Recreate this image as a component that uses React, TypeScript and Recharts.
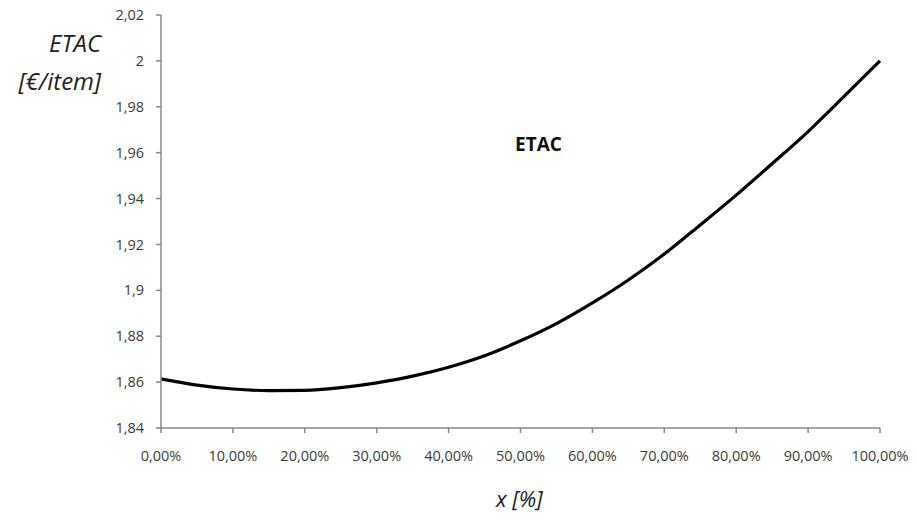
import React from "react";
import { LineChart, Line, XAxis, YAxis } from "recharts";

const xPercent = [0, 5, 10, 15, 20, 25, 30, 35, 40, 45, 50, 55, 60, 65, 70, 75, 80, 85, 90, 95, 100];
const etacValues = [1.8614, 1.8587, 1.857, 1.8563, 1.8564, 1.8576, 1.8597, 1.8626, 1.8665, 1.8715, 1.878, 1.8855, 1.8945, 1.9045, 1.9158, 1.9285, 1.9415, 1.9552, 1.9692, 1.9845, 2.0];
const xTicks = [0, 10, 20, 30, 40, 50, 60, 70, 80, 90, 100];
const yTicks = [1.84, 1.86, 1.88, 1.9, 1.92, 1.94, 1.96, 1.98, 2.0, 2.02];

const data = xPercent.map((x, i) => ({ x, y: etacValues[i] }));

const FONT = "'Open Sans', 'Noto Sans', sans-serif";
const TEXT = "#3a3a3a";
const AXIS = "#888888";

const fmtY = (v: number) => Number(v.toFixed(2)).toString().replace(".", ",");
const fmtX = (v: number) => `${v},00%`;

export default function App() {
  return (
    <div style={{ position: "absolute", left: 0, top: 0, width: 917, height: 520, background: "#fff", fontFamily: FONT }}>
      <LineChart width={917} height={520} data={data} margin={{ top: 15, right: 37, left: 101, bottom: 62 }}>
        <XAxis
          dataKey="x"
          type="number"
          domain={[0, 100]}
          ticks={xTicks}
          tickFormatter={fmtX}
          height={30}
          stroke={AXIS}
          strokeWidth={1.5}
          tickSize={5}
          tickMargin={18}
          tick={{ fill: TEXT, fontSize: 14.5, fontFamily: FONT }}
          interval={0}
        />
        <YAxis
          type="number"
          domain={[1.84, 2.02]}
          ticks={yTicks}
          tickFormatter={fmtY}
          width={60}
          stroke={AXIS}
          strokeWidth={1.5}
          tickSize={5}
          tickMargin={12}
          tick={{ fill: TEXT, fontSize: 14.5, fontFamily: FONT }}
          interval={0}
          allowDataOverflow
        />
        <Line type="monotone" dataKey="y" stroke="#000" strokeWidth={3.2} dot={false} isAnimationActive={false} />
      </LineChart>
      <div style={{ position: "absolute", right: 917 - 101, top: 31, fontStyle: "italic", fontSize: 24, color: "#222", textAlign: "right", lineHeight: "24px" }}>
        ETAC
      </div>
      <div style={{ position: "absolute", right: 917 - 101, top: 69, fontStyle: "italic", fontSize: 24, color: "#222", textAlign: "right", lineHeight: "24px", whiteSpace: "nowrap" }}>
        [€/item]
      </div>
      <div style={{ position: "absolute", left: 515, top: 135, fontWeight: "bold", fontSize: 19, lineHeight: "19px", color: "#111" }}>
        ETAC
      </div>
      <div style={{ position: "absolute", left: 496, top: 487, fontStyle: "italic", fontSize: 22, lineHeight: "22px", color: "#222", whiteSpace: "nowrap" }}>
        x [%]
      </div>
    </div>
  );
}
